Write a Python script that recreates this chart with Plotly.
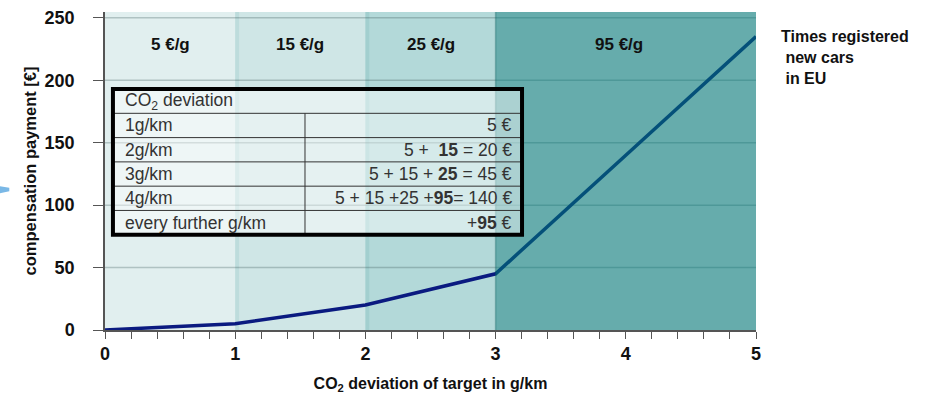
import plotly.graph_objects as go

# Penalty curve: payment per car for each g/km above target
deviation = [0, 1, 2, 3, 4, 5]
payment = [0, 5, 20, 45, 140, 235]

# Premium bands
band_edges = [0, 1, 2, 3, 5]
band_labels = ["5 €/g", "15 €/g", "25 €/g", "95 €/g"]
band_colors = ["#e1efef", "#cfe6e6", "#b3d9d9", "rgba(0,117,117,0.6)"]

# Inset table
table_header = "CO<sub>2</sub> deviation"
table_rows = ["1g/km", "2g/km", "3g/km", "4g/km", "every further g/km"]
table_values = [
    "5 €",
    "5 +  <b>15</b> = 20 €",
    "5 + 15 + <b>25</b> = 45 €",
    "5 + 15 +25 +<b>95</b>= 140 €",
    "+<b>95</b> €",
]

y_ticks = [0, 50, 100, 150, 200, 250]
x_ticks = [0, 1, 2, 3, 4, 5]

FONT = "Liberation Sans, Arial, sans-serif"
Y_TOP = 254.7

fig = go.Figure()

shapes = []
annotations = []

# Thin darker seams at band boundaries
seams = [(1, "#bddcdc"), (2, "#a2cfcf")]

# Light bands sit under the curve; the top band is a translucent overlay above it
for i, lab in enumerate(band_labels):
    x0, x1 = band_edges[i], band_edges[i + 1]
    top_band = i == len(band_labels) - 1
    shapes.append(dict(type="rect", xref="x", yref="y", x0=x0, x1=x1, y0=0, y1=Y_TOP,
                       fillcolor=band_colors[i], line=dict(width=0),
                       layer="above" if top_band else "below"))
    annotations.append(dict(x=(x0 + x1) / 2 - (0.05 if top_band else 0), y=229,
                            xref="x", yref="y", text=f"<b>{lab}</b>", showarrow=False,
                            font=dict(family=FONT, size=17, color="#111")))
for xb, col in seams:
    shapes.append(dict(type="rect", xref="x", yref="y", x0=xb, x1=xb + 0.03, y0=0, y1=Y_TOP,
                       fillcolor=col, line=dict(width=0), layer="below"))
shapes.append(dict(type="line", xref="x", yref="y", x0=3, x1=3, y0=0, y1=Y_TOP,
                   line=dict(color="rgba(0,90,90,0.35)", width=1.5), layer="above"))

# Horizontal grid lines
for yv in y_ticks[1:]:
    shapes.append(dict(type="line", xref="x", yref="y", x0=0, x1=5, y0=yv, y1=yv,
                       line=dict(color="rgba(60,90,90,0.3)", width=1.5), layer="below"))

# Inset table geometry (data units)
tx0, tx1, tdiv = 0.061, 3.203, 1.536
ttop, row_h = 193.0, 19.45
nrows = len(table_rows) + 1
tbot = ttop - nrows * row_h

shapes.append(dict(type="rect", xref="x", yref="y", x0=tx0, x1=tx1, y0=tbot, y1=ttop,
                   fillcolor="rgba(255,255,255,0.45)", line=dict(width=0), layer="above"))
for r in range(1, nrows):
    yy = ttop - r * row_h
    shapes.append(dict(type="line", xref="x", yref="y", x0=tx0, x1=tx1, y0=yy, y1=yy,
                       line=dict(color="#333", width=1), layer="above"))
shapes.append(dict(type="line", xref="x", yref="y", x0=tdiv, x1=tdiv, y0=tbot, y1=ttop - row_h,
                   line=dict(color="#333", width=1), layer="above"))
shapes.append(dict(type="rect", xref="x", yref="y", x0=tx0, x1=tx1, y0=tbot, y1=ttop,
                   line=dict(color="#000", width=4), layer="above"))

cell_font = dict(family=FONT, size=17.5, color="#333")
annotations.append(dict(x=tx0 + 0.08, y=ttop - row_h / 2, xref="x", yref="y", text=table_header,
                        showarrow=False, xanchor="left", yanchor="middle", font=cell_font))
for r, (lab, val) in enumerate(zip(table_rows, table_values)):
    yc = ttop - (r + 1.5) * row_h
    annotations.append(dict(x=tx0 + 0.08, y=yc, xref="x", yref="y", text=lab, showarrow=False,
                            xanchor="left", yanchor="middle", font=cell_font))
    annotations.append(dict(x=tx1 - 0.06, y=yc, xref="x", yref="y", text=val, showarrow=False,
                            xanchor="right", yanchor="middle", font=cell_font))

# Side note
annotations.append(dict(x=1.036, y=0.955, xref="paper", yref="paper",
                        text="<b>Times registered<br> new cars<br> in EU</b>", showarrow=False,
                        xanchor="left", yanchor="top", align="left",
                        font=dict(family=FONT, size=16, color="#111")))

# Small light-blue marker at the left edge
shapes.append(dict(type="path", xref="paper", yref="paper",
                   path="M -0.162 0.452 L -0.147 0.447 L -0.147 0.436 L -0.162 0.430 Z",
                   fillcolor="#7ab8e6", line=dict(width=0)))

fig.add_trace(go.Scatter(x=deviation, y=payment, mode="lines",
                         line=dict(color="#0a1a80", width=3.5), hoverinfo="skip",
                         showlegend=False))

fig.update_layout(
    width=927, height=399,
    margin=dict(l=105, r=171, t=8, b=69),
    paper_bgcolor="white", plot_bgcolor="white",
    shapes=shapes, annotations=annotations,
    xaxis=dict(range=[0, 5], tickvals=x_ticks, showgrid=False, zeroline=False,
               showline=True, linecolor="#555", linewidth=1.5,
               ticks="outside", ticklen=7, tickcolor="#555",
               minor=dict(dtick=0.2, ticks="outside", ticklen=7, tickcolor="#555"),
               tickfont=dict(family=FONT, size=18, color="#111", weight="bold"),
               title=dict(text="<b>CO<sub>2</sub> deviation of target in g/km</b>",
                          font=dict(family=FONT, size=16, color="#111"), standoff=14)),
    yaxis=dict(range=[0, Y_TOP], tickvals=y_ticks, showgrid=False, zeroline=False,
               showline=True, linecolor="#555", linewidth=1.5,
               ticks="outside", ticklen=10, tickcolor="#555", ticklabelstandoff=15,
               tickfont=dict(family=FONT, size=18, color="#111", weight="bold"),
               title=dict(text="<b>compensation payment [€]</b>",
                          font=dict(family=FONT, size=16.5, color="#111"), standoff=4)),
)

fig.write_html("out.html")
